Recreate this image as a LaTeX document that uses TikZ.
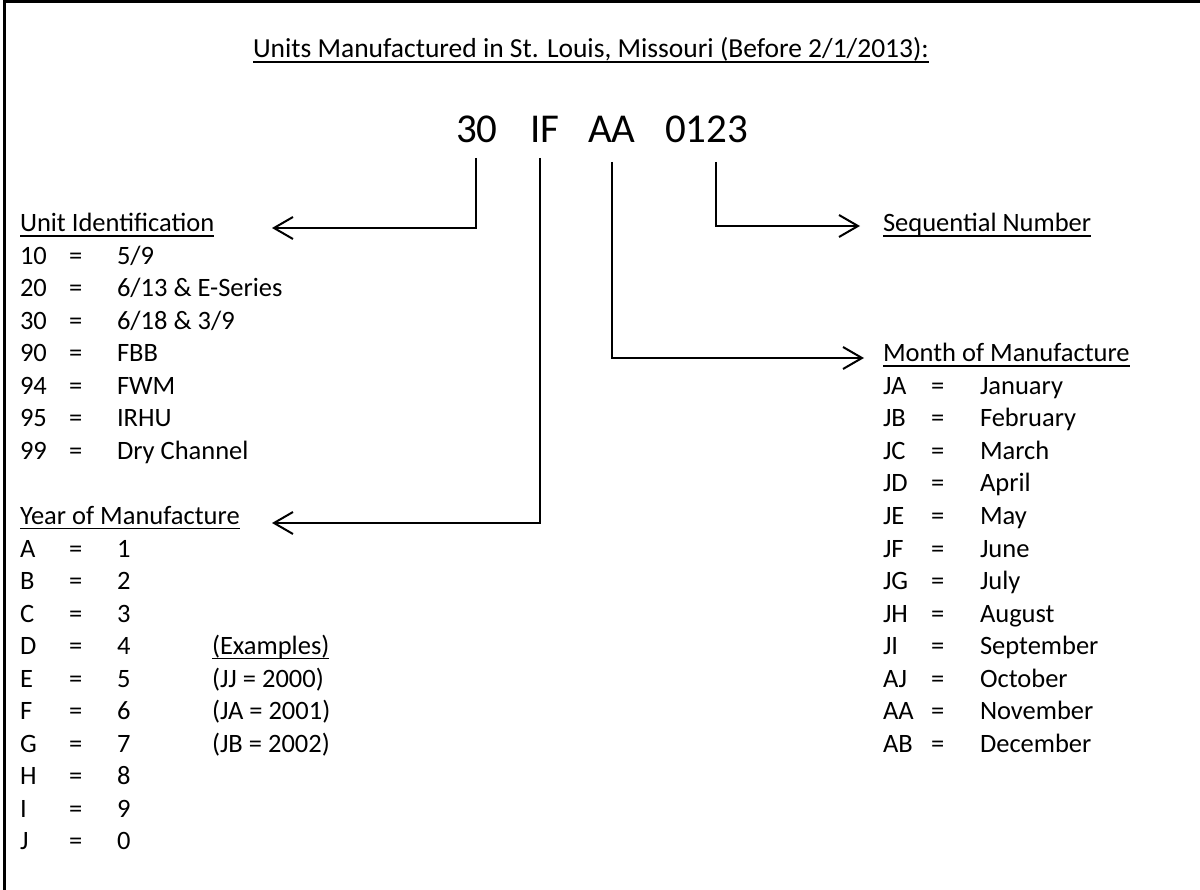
\documentclass[tikz,border=0pt]{standalone}
\usepackage{fontspec}
\setmainfont{Carlito}
\usetikzlibrary{arrows.meta}
\begin{document}
\begin{tikzpicture}[x=1pt,y=-1pt,
  txt/.style={anchor=base west,inner sep=0pt,outer sep=0pt,font=\fontsize{26.5}{32}\selectfont},
  ttl/.style={anchor=base west,inner sep=0pt,outer sep=0pt,font=\fontsize{27.5}{33}\selectfont},
  big/.style={anchor=base west,inner sep=0pt,outer sep=0pt,font=\fontsize{41}{48}\selectfont},
  conn/.style={line width=2pt,-{Straight Barb[length=19pt,width=22pt]}},
  uline/.style={line width=1.8pt},
  frame/.style={line width=3pt}]
\useasboundingbox (0,0) rectangle (1200,890);
\draw[frame] (4,890) -- (4,1.5) -- (1200,1.5);

% title
\node[ttl] (title) at (253,58) {Units Manufactured in St. Louis, Missouri (Before 2/1/2013):};

% big code
\node[big] (n30) at (456,143) {30};
\node[big] (nIF) at (530,143) {IF};
\node[big] (nAA) at (588,143) {AA};
\node[big] (n0123) at (665,143) {0123};

% headings
\node[txt] (ui) at (20,232) {Unit Identification};
\node[txt] (ym) at (20,{232+32.5*9}) {Year of Manufacture};
\node[txt] (ex) at (212,{232+32.5*13}) {(Examples)};
\node[txt] (sn) at (883,232) {Sequential Number};
\node[txt] (mm) at (883,{232+32.5*4}) {Month of Manufacture};
\foreach \n in {title,ui,ym,ex,sn,mm}
  \draw[uline] ([yshift=-4pt]\n.base west) -- ([yshift=-4pt]\n.base east);

% unit identification entries
\foreach \r/\a/\b in {1/10/{5/9},2/20/{6/13 \& E-Series},3/30/{6/18 \& 3/9},4/90/FBB,5/94/FWM,6/95/IRHU,7/99/{Dry Channel}}{
  \node[txt] (uk\r) at (20,{232+32.5*\r}) {\a};
  \node[txt] (ue\r) at (69,{232+32.5*\r}) {=};
  \node[txt] (uv\r) at (117,{232+32.5*\r}) {\b};
}

% year entries
\foreach \r/\a/\b in {10/A/1,11/B/2,12/C/3,13/D/4,14/E/5,15/F/6,16/G/7,17/H/8,18/I/9,19/J/0}{
  \node[txt] (yk\r) at (20,{232+32.5*\r}) {\a};
  \node[txt] (ye\r) at (69,{232+32.5*\r}) {=};
  \node[txt] (yv\r) at (117,{232+32.5*\r}) {\b};
}

% examples
\node[txt] (ex1) at (212,{232+32.5*14}) {(JJ = 2000)};
\node[txt] (ex2) at (212,{232+32.5*15}) {(JA = 2001)};
\node[txt] (ex3) at (212,{232+32.5*16}) {(JB = 2002)};

% month entries
\foreach \r/\a/\b in {5/JA/January,6/JB/February,7/JC/March,8/JD/April,9/JE/May,10/JF/June,11/JG/July,12/JH/August,13/JI/September,14/AJ/October,15/AA/November,16/AB/December}{
  \node[txt] (mk\r) at (883,{232+32.5*\r}) {\a};
  \node[txt] (me\r) at (931,{232+32.5*\r}) {=};
  \node[txt] (mv\r) at (980,{232+32.5*\r}) {\b};
}

% connectors
\coordinate (s30) at (476,158);
\coordinate (sIF) at (540,158);
\coordinate (sAA) at (612,162);
\coordinate (s0123) at (716,162);
\coordinate (tUI) at (272,228);
\coordinate (tYM) at (272,523);
\coordinate (tMM) at (864,358);
\coordinate (tSN) at (860,226);
\draw[conn] (s30) |- (tUI);
\draw[conn] (sIF) |- (tYM);
\draw[conn] (sAA) |- (tMM);
\draw[conn] (s0123) |- (tSN);
\end{tikzpicture}
\end{document}
